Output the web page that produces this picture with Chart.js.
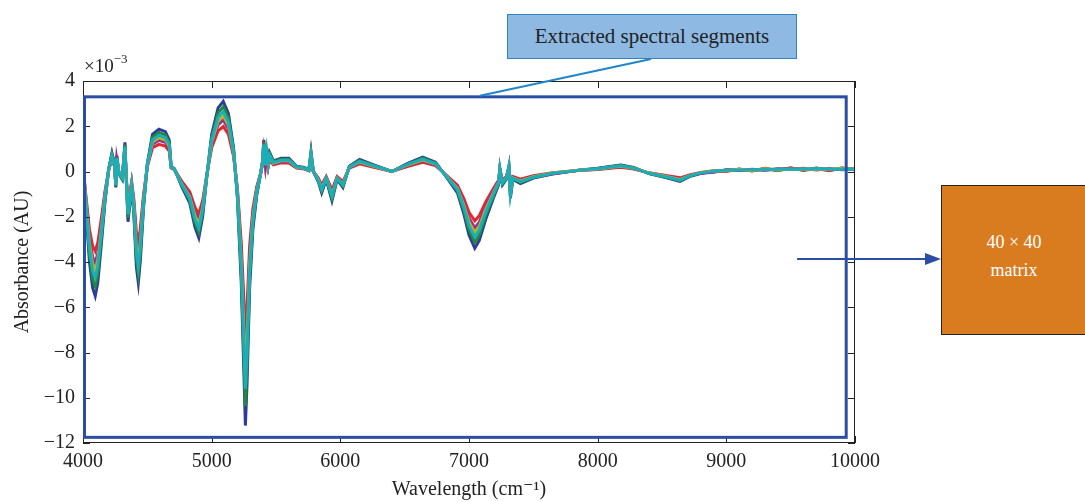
<!DOCTYPE html>
<html>
<head>
<meta charset="utf-8">
<script src="https://cdn.jsdelivr.net/npm/chart.js@4/dist/chart.umd.min.js"></script>
<style>
  body { margin: 0; background: #fff; }
  #wrap { position: relative; width: 1085px; height: 502px; overflow: hidden; font-family: "Liberation Serif", "DejaVu Serif", serif; }
  canvas { position: absolute; left: 0; top: 0; }
  .callout { position: absolute; left: 507px; top: 14px; width: 288px; height: 43px; background: #8db9e3; border: 1px solid #2e86c1;
    color: #222; font-size: 21px; line-height: 43px; text-align: center; }
  .matrix { position: absolute; left: 941px; top: 185px; width: 160px; height: 148px; background: #d97b1f; border: 1px solid #222;
    color: #fff; font-size: 18px; }
  .matrix div { position: absolute; left: 0; width: 144px; text-align: center; }
  .expo { position: absolute; left: 84px; top: 53px; font-size: 19px; color: #222; }
  .expo sup { font-size: 13px; position: relative; top: -2px; }
</style>
</head>
<body>
<div id="wrap">
  <canvas id="chart" width="1085" height="502"></canvas>
  <div class="expo">&times;10<sup>&minus;3</sup></div>
  <div class="callout">Extracted spectral segments</div>
  <div class="matrix"><div style="top:46px">40 &times; 40</div><div style="top:74px">matrix</div></div>
</div>
<script>
const wavenumber = [4000,4025,4050,4075,4095,4115,4140,4170,4200,4225,4245,4255,4263,4280,4305,4326,4338,4350,4365,4378,
  4395,4415,4430,4445,4470,4500,4540,4590,4640,4670,4685,4710,4770,4830,4870,4900,4930,4960,5000,5050,
  5090,5130,5170,5200,5230,5250,5262,5275,5295,5320,5350,5380,5395,5405,5418,5428,5440,5452,5480,5540,
  5600,5660,5720,5755,5772,5790,5830,5855,5890,5935,5975,6020,6070,6150,6260,6400,6520,6640,6740,6830,
  6910,6960,7000,7045,7080,7130,7190,7230,7240,7260,7290,7310,7322,7340,7400,7500,7650,7850,8000,8180,
  8280,8400,8520,8640,8720,8800,8900,9000,9100,9200,9300,9400,9500,9600,9700,9800,9900,10000];

const absCyan = [0.3,-1.6,-3.4,-4.4,-4.7,-4.2,-2.9,-1.2,0.1,0.7,0.3,-0.6,0.6,-0.1,-0.3,1.1,-0.5,-1.9,-1.2,-0.6,
  -1.6,-3.6,-4.2,-3.4,-1.4,0.3,1.4,1.6,1.5,1.2,0.2,0.1,-0.6,-1.2,-2.1,-2.5,-1.7,-0.3,1.4,2.4,
  2.65,2.2,0.9,-1.0,-4.2,-7.5,-9.6,-8.0,-4.4,-2.2,-0.9,-0.1,0.4,1.2,0.3,0.9,0.3,0.7,0.4,0.5,
  0.5,0.2,0.15,0.05,0.75,0.0,-0.4,-0.8,-0.3,-1.1,-0.3,-0.6,0.2,0.45,0.25,0.0,0.3,0.55,0.35,-0.25,
  -0.8,-1.6,-2.4,-2.9,-2.6,-1.8,-1.0,-0.5,0.1,-0.5,-0.3,0.2,-1.0,-0.3,-0.45,-0.25,-0.08,0.05,0.12,0.25,
  0.15,-0.08,-0.22,-0.38,-0.18,-0.06,0.01,0.06,0.07,0.08,0.09,0.1,0.11,0.1,0.13,0.1,0.11,0.1];

const absRed = [0.22,-1.2,-2.55,-3.3,-3.52,-3.15,-2.18,-0.9,0.08,0.52,0.22,-0.45,0.45,-0.08,-0.22,0.82,-0.38,-1.42,-0.9,-0.45,
  -1.2,-2.7,-3.15,-2.55,-1.05,0.22,1.05,1.2,1.12,0.9,0.15,0.08,-0.45,-0.9,-1.58,-1.88,-1.28,-0.22,1.05,1.8,
  1.99,1.65,0.68,-0.75,-3.15,-5.62,-7.2,-6.0,-3.3,-1.65,-0.68,-0.08,0.3,0.9,0.22,0.68,0.22,0.52,0.3,0.38,
  0.38,0.15,0.11,0.04,0.56,0.0,-0.3,-0.6,-0.22,-0.82,-0.22,-0.45,0.15,0.34,0.19,0.0,0.22,0.41,0.26,-0.19,
  -0.6,-1.2,-1.8,-2.18,-1.95,-1.35,-0.75,-0.38,0.08,-0.38,-0.22,0.15,-0.75,-0.22,-0.34,-0.19,-0.06,0.04,0.09,0.19,
  0.11,-0.06,-0.16,-0.28,-0.14,-0.04,0.03,0.0,0.11,0.02,0.14,0.05,0.16,0.05,0.15,0.04,0.16,0.07];

const absMagenta = [0.26,-1.38,-2.92,-3.78,-4.04,-3.61,-2.49,-1.03,0.09,0.6,0.26,-0.52,0.52,-0.09,-0.26,0.95,-0.43,-1.63,-1.03,-0.52,
  -1.38,-3.1,-3.61,-2.92,-1.2,0.26,1.2,1.38,1.29,1.03,0.17,0.09,-0.52,-1.03,-1.81,-2.15,-1.46,-0.26,1.2,2.06,
  2.28,1.89,0.77,-0.86,-3.61,-6.45,-8.26,-6.88,-3.78,-1.89,-0.77,-0.09,0.34,1.03,0.26,0.77,0.26,0.6,0.34,0.43,
  0.43,0.17,0.13,0.04,0.65,0.0,-0.34,-0.69,-0.26,-0.95,-0.26,-0.52,0.17,0.39,0.22,0.0,0.26,0.47,0.3,-0.22,
  -0.69,-1.38,-2.06,-2.49,-2.24,-1.55,-0.86,-0.43,0.09,-0.43,-0.26,0.17,-0.86,-0.26,-0.39,-0.22,-0.1,0.06,0.1,0.22,
  0.13,-0.07,-0.19,-0.33,-0.16,-0.08,-0.03,0.08,0.04,0.1,0.06,0.12,0.09,0.14,0.07,0.13,0.08,0.11];

const absYellow = [0.28,-1.49,-3.16,-4.09,-4.37,-3.91,-2.7,-1.12,0.09,0.65,0.28,-0.56,0.56,-0.09,-0.28,1.02,-0.47,-1.77,-1.12,-0.56,
  -1.49,-3.35,-3.91,-3.16,-1.3,0.28,1.3,1.49,1.4,1.12,0.19,0.09,-0.56,-1.12,-1.95,-2.33,-1.58,-0.28,1.3,2.23,
  2.46,2.05,0.84,-0.93,-3.91,-6.98,-8.93,-7.44,-4.09,-2.05,-0.84,-0.09,0.37,1.12,0.28,0.84,0.28,0.65,0.37,0.47,
  0.47,0.19,0.14,0.05,0.7,0.0,-0.37,-0.74,-0.28,-1.02,-0.28,-0.56,0.19,0.42,0.23,0.0,0.28,0.51,0.33,-0.23,
  -0.74,-1.49,-2.23,-2.7,-2.42,-1.67,-0.93,-0.47,0.09,-0.47,-0.28,0.19,-0.93,-0.28,-0.42,-0.23,-0.07,0.05,0.11,0.23,
  0.14,-0.07,-0.2,-0.35,-0.17,-0.05,0.02,0.03,0.1,0.04,0.12,0.07,0.1,0.11,0.1,0.1,0.14,0.09];

const absGreen = [0.32,-1.73,-3.67,-4.75,-5.08,-4.54,-3.13,-1.3,0.11,0.76,0.32,-0.65,0.65,-0.11,-0.32,1.19,-0.54,-2.05,-1.3,-0.65,
  -1.73,-3.89,-4.54,-3.67,-1.51,0.32,1.51,1.73,1.62,1.3,0.22,0.11,-0.65,-1.3,-2.27,-2.7,-1.84,-0.32,1.51,2.59,
  2.86,2.38,0.97,-1.08,-4.54,-8.1,-10.37,-8.64,-4.75,-2.38,-0.97,-0.11,0.43,1.3,0.32,0.97,0.32,0.76,0.43,0.54,
  0.54,0.22,0.16,0.05,0.81,0.0,-0.43,-0.86,-0.32,-1.19,-0.32,-0.65,0.22,0.49,0.27,0.0,0.32,0.59,0.38,-0.27,
  -0.86,-1.73,-2.59,-3.13,-2.81,-1.94,-1.08,-0.54,0.11,-0.54,-0.32,0.22,-1.08,-0.32,-0.49,-0.27,-0.09,0.05,0.13,0.27,
  0.16,-0.09,-0.24,-0.41,-0.19,-0.07,-0.02,0.07,0.05,0.09,0.07,0.1,0.13,0.07,0.14,0.09,0.1,0.12];

const absBlue = [0.35,-1.87,-3.98,-5.15,-5.5,-4.91,-3.39,-1.4,0.12,0.82,0.35,-0.7,0.7,-0.12,-0.35,1.29,-0.58,-2.22,-1.4,-0.7,
  -1.87,-4.21,-4.91,-3.98,-1.64,0.35,1.64,1.87,1.76,1.4,0.23,0.12,-0.7,-1.4,-2.46,-2.93,-1.99,-0.35,1.64,2.81,
  3.1,2.57,1.05,-1.17,-4.91,-8.78,-11.23,-9.36,-5.15,-2.57,-1.05,-0.12,0.47,1.4,0.35,1.05,0.35,0.82,0.47,0.59,
  0.59,0.23,0.18,0.06,0.88,0.0,-0.47,-0.94,-0.35,-1.29,-0.35,-0.7,0.23,0.53,0.29,0.0,0.35,0.64,0.41,-0.29,
  -0.94,-1.87,-2.81,-3.39,-3.04,-2.11,-1.17,-0.59,0.12,-0.59,-0.35,0.23,-1.17,-0.35,-0.53,-0.29,-0.11,0.06,0.14,0.29,
  0.18,-0.09,-0.26,-0.44,-0.21,-0.09,0.01,0.04,0.1,0.03,0.12,0.05,0.14,0.08,0.11,0.06,0.13,0.08];

const xTicks = [4000, 5000, 6000, 7000, 8000, 9000, 10000];
const yTicks = [-12, -10, -8, -6, -4, -2, 0, 2, 4];

// extracted segment frame (data units) and arrow start
const segment = { x0: 4000, x1: 9920, y0: 3.3, y1: -11.75 };
const arrowFrom = { x: 9550, y: -3.87 };

const series = [
  { name: 'cyan', color: '#19aeb8', data: absCyan },
  { name: 'yellow', color: '#b4b428', data: absYellow },
  { name: 'magenta', color: '#9a2f95', data: absMagenta },
  { name: 'red', color: '#e5262b', data: absRed },
  { name: 'green', color: '#23883c', data: absGreen },
  { name: 'blue', color: '#2c3b9c', data: absBlue }
];

const serif = '"Liberation Serif", "DejaVu Serif", serif';
const minus = v => (v < 0 ? '\u2212' + Math.abs(v) : String(v));

const framePlugin = {
  id: 'frame',
  afterDatasetsDraw(chart) {
    const { ctx, chartArea: a, scales: { x, y } } = chart;
    ctx.save();
    // axes box with inward ticks (top/right too)
    ctx.strokeStyle = '#222';
    ctx.lineWidth = 1;
    ctx.strokeRect(a.left + 0.5, a.top + 0.5, a.right - a.left - 1, a.bottom - a.top - 1);
    ctx.beginPath();
    xTicks.forEach(t => {
      const px = Math.round(x.getPixelForValue(t)) + 0.5;
      ctx.moveTo(px, a.bottom); ctx.lineTo(px, a.bottom - 7);
      ctx.moveTo(px, a.top); ctx.lineTo(px, a.top + 7);
    });
    yTicks.forEach(t => {
      const py = Math.round(y.getPixelForValue(t)) + 0.5;
      ctx.moveTo(a.left, py); ctx.lineTo(a.left + 7, py);
      ctx.moveTo(a.right, py); ctx.lineTo(a.right - 7, py);
    });
    ctx.stroke();

    // blue frame around extracted segments
    const fx0 = x.getPixelForValue(segment.x0), fx1 = x.getPixelForValue(segment.x1);
    const fy0 = y.getPixelForValue(segment.y0), fy1 = y.getPixelForValue(segment.y1);
    ctx.strokeStyle = '#2a4ea6';
    ctx.lineWidth = 3;
    ctx.strokeRect(fx0 + 1.5, fy0, fx1 - fx0, fy1 - fy0);

    // connector to the callout
    ctx.strokeStyle = '#1f86c8';
    ctx.lineWidth = 2;
    ctx.beginPath();
    ctx.moveTo(x.getPixelForValue(7085), fy0 - 1);
    ctx.lineTo(651, 59);
    ctx.stroke();

    // arrow to the matrix box
    const ax = x.getPixelForValue(arrowFrom.x), ay = y.getPixelForValue(arrowFrom.y);
    const tip = 941;
    ctx.strokeStyle = '#2a4ea6';
    ctx.fillStyle = '#2a4ea6';
    ctx.lineWidth = 2;
    ctx.beginPath();
    ctx.moveTo(ax, ay); ctx.lineTo(tip - 12, ay);
    ctx.stroke();
    ctx.beginPath();
    ctx.moveTo(tip, ay); ctx.lineTo(tip - 16, ay - 6); ctx.lineTo(tip - 16, ay + 6);
    ctx.closePath();
    ctx.fill();
    ctx.restore();
  }
};

new Chart(document.getElementById('chart'), {
  type: 'line',
  data: {
    datasets: series.map(s => ({
      label: s.name,
      data: wavenumber.map((w, i) => ({ x: w, y: s.data[i] })),
      borderColor: s.color,
      backgroundColor: s.color,
      borderWidth: 3,
      pointRadius: 0,
      tension: 0
    }))
  },
  options: {
    responsive: false,
    animation: false,
    devicePixelRatio: 1,
    layout: { padding: { left: 0, right: 230, top: 81, bottom: 0 } },
    plugins: { legend: { display: false }, tooltip: { enabled: false } },
    scales: {
      x: {
        type: 'linear',
        min: 4000, max: 10000,
        afterFit: s => { s.height = 59; },
        afterBuildTicks: s => { s.ticks = xTicks.map(v => ({ value: v })); },
        grid: { display: false, drawTicks: false },
        border: { display: false },
        ticks: { color: '#222', padding: 7, maxRotation: 0, callback: v => String(v), font: { family: serif, size: 20 } },
        title: { display: true, text: 'Wavelength (cm\u207B\u00B9)', color: '#222', padding: { top: 1, bottom: 0 }, font: { family: serif, size: 20 } }
      },
      y: {
        min: -12, max: 4,
        afterFit: s => { s.width = 83; },
        afterBuildTicks: s => { s.ticks = yTicks.map(v => ({ value: v })); },
        grid: { display: false, drawTicks: false },
        border: { display: false },
        ticks: { color: '#222', padding: 8, callback: v => minus(v), font: { family: serif, size: 20 } },
        title: { display: true, text: 'Absorbance (AU)', color: '#222', padding: { top: 11, bottom: 0 }, font: { family: serif, size: 20 } }
      }
    }
  },
  plugins: [framePlugin]
});
</script>
</body>
</html>
